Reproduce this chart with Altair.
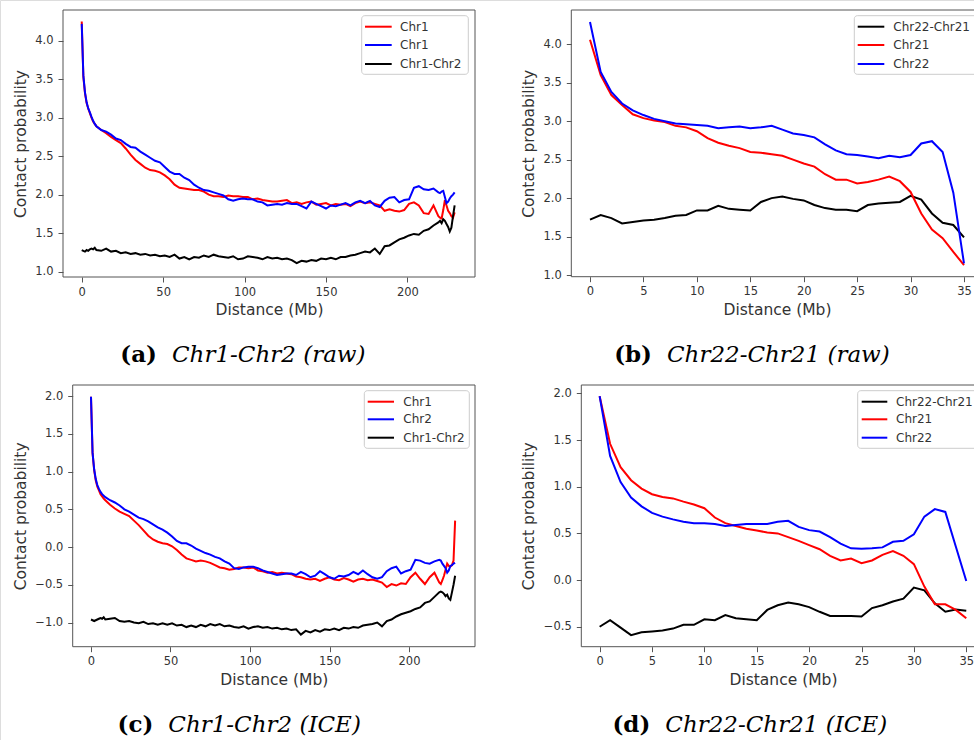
import altair as alt
import pandas as pd

# ---------------- data ----------------
# Chr1 / Chr2 distance grid (Mb)
X_CHR1 = list(range(0, 9)) + list(range(9, 220, 3)) + list(range(220, 230))

RAW_CHR1_RED = [
    4.25, 3.53, 3.32, 3.19, 3.12, 3.06, 3.00, 2.95, 2.92, 2.89,
    2.84, 2.80, 2.75, 2.71, 2.67, 2.60, 2.52, 2.45, 2.40, 2.35,
    2.32, 2.31, 2.29, 2.25, 2.20, 2.13, 2.09, 2.08, 2.07, 2.06,
    2.06, 2.04, 2.00, 1.98, 1.98, 1.97, 1.99, 1.98, 1.98, 1.97,
    1.97, 1.94, 1.95, 1.93, 1.92, 1.91, 1.91, 1.92, 1.93, 1.89,
    1.90, 1.88, 1.90, 1.91, 1.87, 1.88, 1.89, 1.86, 1.88, 1.87,
    1.88, 1.85, 1.89, 1.91, 1.89, 1.90, 1.88, 1.86, 1.79, 1.81,
    1.79, 1.78, 1.80, 1.88, 1.90, 1.86, 1.76, 1.75, 1.86, 1.72,
    1.70, 1.69, 1.80, 1.93, 1.86, 1.79, 1.76, 1.72, 1.70, 1.77]
RAW_CHR1_BLUE = [
    4.22, 3.55, 3.33, 3.20, 3.12, 3.07, 3.01, 2.96, 2.92, 2.89,
    2.84, 2.82, 2.78, 2.73, 2.71, 2.66, 2.62, 2.61, 2.56, 2.52,
    2.48, 2.44, 2.42, 2.36, 2.30, 2.27, 2.27, 2.22, 2.19, 2.13,
    2.09, 2.06, 2.05, 2.03, 2.01, 1.99, 1.94, 1.92, 1.94, 1.95,
    1.94, 1.94, 1.91, 1.90, 1.86, 1.87, 1.88, 1.87, 1.89, 1.88,
    1.88, 1.85, 1.82, 1.91, 1.88, 1.85, 1.82, 1.86, 1.85, 1.87,
    1.89, 1.86, 1.90, 1.92, 1.89, 1.92, 1.86, 1.84, 1.92, 1.96,
    1.97, 1.90, 1.93, 1.94, 2.09, 2.11, 2.07, 2.06, 2.08, 2.03,
    2.02, 2.04, 2.05, 1.97, 1.89, 1.91, 1.95, 1.98, 2.00, 2.03]
RAW_CHR1_CHR2 = [
    1.28, 1.27, 1.26, 1.28, 1.27, 1.29, 1.30, 1.29, 1.31, 1.28,
    1.27, 1.30, 1.26, 1.27, 1.24, 1.25, 1.23, 1.24, 1.22, 1.23,
    1.21, 1.22, 1.20, 1.21, 1.19, 1.22, 1.17, 1.19, 1.16, 1.19,
    1.18, 1.21, 1.19, 1.22, 1.20, 1.19, 1.18, 1.20, 1.16, 1.17,
    1.20, 1.19, 1.18, 1.16, 1.19, 1.17, 1.18, 1.16, 1.17, 1.15,
    1.11, 1.14, 1.13, 1.15, 1.14, 1.17, 1.16, 1.18, 1.16, 1.19,
    1.19, 1.21, 1.22, 1.24, 1.26, 1.25, 1.30, 1.23, 1.33, 1.34,
    1.38, 1.42, 1.44, 1.47, 1.49, 1.48, 1.53, 1.55, 1.60, 1.64,
    1.66, 1.63, 1.68, 1.66, 1.62, 1.58, 1.52, 1.57, 1.72, 1.86]

ICE_CHR1 = [
    1.99, 1.24, 1.02, 0.88, 0.80, 0.75, 0.70, 0.67, 0.64, 0.62,
    0.56, 0.51, 0.47, 0.44, 0.41, 0.35, 0.29, 0.22, 0.15, 0.10,
    0.07, 0.05, 0.04, 0.01, -0.04, -0.10, -0.15, -0.17, -0.19, -0.18,
    -0.19, -0.21, -0.24, -0.27, -0.28, -0.30, -0.29, -0.27, -0.27, -0.28,
    -0.27, -0.31, -0.32, -0.34, -0.33, -0.35, -0.34, -0.35, -0.36, -0.39,
    -0.40, -0.42, -0.43, -0.42, -0.45, -0.42, -0.40, -0.43, -0.44, -0.41,
    -0.43, -0.46, -0.43, -0.42, -0.44, -0.43, -0.45, -0.47, -0.53, -0.49,
    -0.51, -0.48, -0.49, -0.40, -0.34, -0.42, -0.49, -0.40, -0.34, -0.47,
    -0.49, -0.44, -0.38, -0.30, -0.22, -0.25, -0.26, -0.24, -0.18, 0.35]
ICE_CHR2 = [
    1.99, 1.25, 1.03, 0.90, 0.82, 0.77, 0.73, 0.70, 0.68, 0.66,
    0.62, 0.59, 0.55, 0.50, 0.47, 0.43, 0.39, 0.37, 0.34, 0.30,
    0.26, 0.23, 0.19, 0.14, 0.08, 0.05, 0.05, 0.02, -0.02, -0.05,
    -0.08, -0.10, -0.13, -0.15, -0.19, -0.22, -0.28, -0.29, -0.27, -0.26,
    -0.26, -0.28, -0.31, -0.33, -0.35, -0.37, -0.36, -0.35, -0.35, -0.37,
    -0.33, -0.36, -0.40, -0.38, -0.32, -0.36, -0.40, -0.42, -0.38, -0.39,
    -0.37, -0.33, -0.36, -0.31, -0.36, -0.40, -0.42, -0.40, -0.32, -0.28,
    -0.26, -0.35, -0.32, -0.30, -0.17, -0.18, -0.21, -0.22, -0.19, -0.17,
    -0.18, -0.22, -0.25, -0.28, -0.34, -0.31, -0.25, -0.24, -0.22, -0.21]
ICE_CHR1_CHR2 = [
    -0.96, -0.97, -0.98, -0.97, -0.96, -0.95, -0.94, -0.95, -0.93, -0.96,
    -0.95, -0.94, -0.98, -0.99, -0.98, -1.00, -1.01, -0.99, -1.02, -1.01,
    -1.03, -1.01, -1.03, -1.01, -1.04, -1.03, -1.06, -1.04, -1.06, -1.03,
    -1.05, -1.02, -1.04, -1.02, -1.05, -1.04, -1.06, -1.07, -1.05, -1.08,
    -1.06, -1.05, -1.07, -1.06, -1.08, -1.07, -1.09, -1.08, -1.10, -1.09,
    -1.16, -1.11, -1.13, -1.10, -1.12, -1.09, -1.10, -1.08, -1.10, -1.07,
    -1.08, -1.06, -1.07, -1.04, -1.03, -1.02, -1.00, -1.05, -0.98, -0.96,
    -0.92, -0.89, -0.87, -0.85, -0.82, -0.80, -0.74, -0.72, -0.66, -0.60,
    -0.59, -0.60, -0.62, -0.65, -0.63, -0.68, -0.70, -0.60, -0.50, -0.38]

# Chr22 / Chr21 distance grid (Mb)
X_CHR22 = list(range(0, 36))

RAW_CHR22_CHR21 = [1.72, 1.78, 1.74, 1.67, 1.69, 1.71, 1.72, 1.74, 1.77, 1.78,
                   1.84, 1.84, 1.90, 1.86, 1.85, 1.84, 1.95, 2.00, 2.02, 1.99,
                   1.97, 1.91, 1.87, 1.85, 1.85, 1.83, 1.91, 1.93, 1.94, 1.95,
                   2.03, 1.98, 1.80, 1.68, 1.65, 1.49]
RAW_CHR21 = [4.06, 3.60, 3.34, 3.21, 3.09, 3.04, 3.01, 2.99, 2.94, 2.92,
             2.87, 2.78, 2.72, 2.68, 2.65, 2.60, 2.59, 2.57, 2.55, 2.50,
             2.45, 2.41, 2.31, 2.24, 2.24, 2.19, 2.21, 2.24, 2.28, 2.22,
             2.08, 1.80, 1.59, 1.48, 1.30, 1.13]
RAW_CHR22 = [4.29, 3.64, 3.38, 3.23, 3.14, 3.08, 3.03, 3.00, 2.97, 2.96,
             2.95, 2.94, 2.91, 2.92, 2.93, 2.91, 2.92, 2.94, 2.89, 2.84,
             2.82, 2.79, 2.70, 2.62, 2.57, 2.56, 2.54, 2.52, 2.55, 2.53,
             2.56, 2.71, 2.74, 2.60, 2.07, 1.15]

ICE_CHR22_CHR21 = [-0.50, -0.43, -0.51, -0.59, -0.56, -0.55, -0.54, -0.52, -0.48, -0.48,
                   -0.42, -0.43, -0.375, -0.41, -0.42, -0.43, -0.32, -0.27, -0.24, -0.26,
                   -0.29, -0.34, -0.385, -0.385, -0.385, -0.39, -0.30, -0.27, -0.23, -0.20,
                   -0.08, -0.11, -0.25, -0.34, -0.315, -0.33]
ICE_CHR21 = [1.97, 1.46, 1.21, 1.07, 0.98, 0.92, 0.89, 0.875, 0.84, 0.81,
             0.77, 0.67, 0.61, 0.58, 0.55, 0.53, 0.51, 0.50, 0.46, 0.42,
             0.375, 0.33, 0.26, 0.21, 0.23, 0.18, 0.21, 0.27, 0.31, 0.26,
             0.17, -0.07, -0.26, -0.26, -0.32, -0.41]
ICE_CHR22 = [1.97, 1.33, 1.05, 0.885, 0.79, 0.72, 0.68, 0.65, 0.625, 0.61,
             0.61, 0.60, 0.58, 0.59, 0.60, 0.60, 0.60, 0.625, 0.635, 0.57,
             0.535, 0.52, 0.46, 0.39, 0.34, 0.335, 0.34, 0.35, 0.41, 0.42,
             0.49, 0.68, 0.76, 0.73, 0.36, -0.01]

X_TICKS_CHR1 = [0, 50, 100, 150, 200]
X_TICKS_CHR22 = [0, 5, 10, 15, 20, 25, 30, 35]
Y_TICKS_RAW = [1.0, 1.5, 2.0, 2.5, 3.0, 3.5, 4.0]
Y_TICKS_ICE_CHR1 = [-1.0, -0.5, 0.0, 0.5, 1.0, 1.5, 2.0]
Y_TICKS_ICE_CHR22 = [-0.5, 0.0, 0.5, 1.0, 1.5, 2.0]

# ---------------- style / layout ----------------
RED, BLUE, BLACK = "#ff0000", "#0000ff", "#000000"
FONT = "DejaVu Sans"
SERIF = "DejaVu Serif"
FRAME = "#555555"
TEXT = "#333333"
LW = 2
CW, CH = 974, 740

ONE = pd.DataFrame({"k": [0]})


def panel(xs, series, xdom, ydom, xticks, yticks, left, right, top, bottom, ext, tpad):
    xaxis = alt.Axis(orient="bottom", offset=-(CH - bottom), values=xticks, format="d",
                     title="Distance (Mb)", grid=False, domain=False,
                     tickColor=FRAME, tickSize=5, labelPadding=4,
                     labelFont=FONT, labelFontSize=11.5, labelColor=TEXT,
                     titleFont=FONT, titleFontSize=15.5, titleFontWeight="normal",
                     titleColor=TEXT, titlePadding=5, labelFlush=False, labelOverlap=False)
    yaxis = alt.Axis(orient="left", offset=-left, values=yticks, format=".1f",
                     title="Contact probability", grid=False, domain=False,
                     tickColor=FRAME, tickSize=5, labelPadding=5,
                     labelFont=FONT, labelFontSize=11.5, labelColor=TEXT,
                     titleFont=FONT, titleFontSize=15.5, titleFontWeight="normal",
                     titleColor=TEXT, titlePadding=tpad, minExtent=ext, maxExtent=ext,
                     labelOverlap=False)
    xenc = alt.X("d:Q", scale=alt.Scale(domain=xdom, range=[left, right], nice=False, zero=False),
                 axis=xaxis)
    yenc = alt.Y("v:Q", scale=alt.Scale(domain=ydom, range=[bottom, top], nice=False, zero=False),
                 axis=yaxis)
    lines = []
    for name, vals, color in series:
        df = pd.DataFrame({"d": xs, "v": vals})
        lines.append(alt.Chart(df).mark_line(color=color, strokeWidth=LW).encode(x=xenc, y=yenc))
    frame = alt.Chart(ONE).mark_rect(fillOpacity=0, stroke=FRAME, strokeWidth=1).encode(
        x=alt.value(left), x2=alt.value(right), y=alt.value(top), y2=alt.value(bottom))
    return alt.layer(*lines), frame


def legend(series, box, sx0, sx1, lx, ys):
    bx0, bx1, by0, by1 = box
    out = [alt.Chart(ONE).mark_rect(fill="white", fillOpacity=0.8, stroke="#cccccc",
                                    strokeWidth=1, cornerRadius=3)
           .encode(x=alt.value(bx0), x2=alt.value(bx1), y=alt.value(by0), y2=alt.value(by1))]
    for (name, vals, color), yy in zip(series, ys):
        out.append(alt.Chart(ONE).mark_rule(color=color, strokeWidth=LW)
                   .encode(x=alt.value(sx0), x2=alt.value(sx1), y=alt.value(yy)))
        out.append(alt.Chart(ONE).mark_text(text=name, align="left", baseline="middle",
                                            font=FONT, fontSize=12, color=TEXT)
                   .encode(x=alt.value(lx), y=alt.value(yy)))
    return out


def caption(bold, ital, bright, ileft, cy):
    return [
        alt.Chart(ONE).mark_text(text=bold, align="right", baseline="middle", font=SERIF,
                                 fontWeight="bold", fontSize=23, color="black")
        .encode(x=alt.value(bright), y=alt.value(cy)),
        alt.Chart(ONE).mark_text(text=ital, align="left", baseline="middle", font=SERIF,
                                 fontStyle="italic", fontSize=23, color="black")
        .encode(x=alt.value(ileft), y=alt.value(cy)),
    ]


S_A = [("Chr1", RAW_CHR1_RED, RED), ("Chr1", RAW_CHR1_BLUE, BLUE), ("Chr1-Chr2", RAW_CHR1_CHR2, BLACK)]
S_B = [("Chr22-Chr21", RAW_CHR22_CHR21, BLACK), ("Chr21", RAW_CHR21, RED), ("Chr22", RAW_CHR22, BLUE)]
S_C = [("Chr1", ICE_CHR1, RED), ("Chr2", ICE_CHR2, BLUE), ("Chr1-Chr2", ICE_CHR1_CHR2, BLACK)]
S_D = [("Chr22-Chr21", ICE_CHR22_CHR21, BLACK), ("Chr21", ICE_CHR21, RED), ("Chr22", ICE_CHR22, BLUE)]

la, fa = panel(X_CHR1, S_A, [-11.5, 241.5], [0.93, 4.40], X_TICKS_CHR1, Y_TICKS_RAW,
               63, 475, 10, 277, 29, 5.5)
lb, fb = panel(X_CHR22, S_B, [-1.75, 36.75], [0.978, 4.446], X_TICKS_CHR22, Y_TICKS_RAW,
               571.3, 982.7, 10, 276.7, 29, 5.8)
lc, fc = panel(X_CHR1, S_C, [-11.5, 241.5], [-1.32, 2.146], X_TICKS_CHR1, Y_TICKS_ICE_CHR1,
               72.7, 475, 385, 646.7, 38.5, 5.7)
ld, fd = panel(X_CHR22, S_D, [-1.75, 36.75], [-0.714, 2.09], X_TICKS_CHR22, Y_TICKS_ICE_CHR22,
               581.3, 984.6, 385, 646.7, 38.5, 6.3)

decor = [fa, fb, fc, fd]
decor += legend(S_A, (361.7, 468.3, 15.7, 74.3), 365, 391.7, 400, [26.7, 45, 64])
decor += legend(S_B, (854.3, 980, 15.7, 74.3), 857.7, 884.3, 893.3, [26.7, 45, 64])
decor += legend(S_C, (364.3, 469.3, 390.7, 448.3), 367.7, 394, 403.3, [401.7, 419.3, 437.7])
decor += legend(S_D, (857.7, 980, 390.7, 448.3), 861.7, 887.3, 896, [401.7, 419.3, 437.7])
decor += caption("(a)", "Chr1-Chr2 (raw)", 157, 172, 355)
decor += caption("(b)", "Chr22-Chr21 (raw)", 652, 667, 355)
decor += caption("(c)", "Chr1-Chr2 (ICE)", 153.3, 168.3, 725)
decor += caption("(d)", "Chr22-Chr21 (ICE)", 650.3, 665.3, 725)

chart = (alt.layer(la, lb, lc, ld, *decor)
         .resolve_scale(x="independent", y="independent")
         .properties(width=CW, height=CH, padding=0,
                     autosize=alt.AutoSizeParams(type="none"))
         .configure_view(stroke=None)
         .configure(background="white"))

chart.save("out.html", embed_options={"renderer": "svg", "actions": False})
